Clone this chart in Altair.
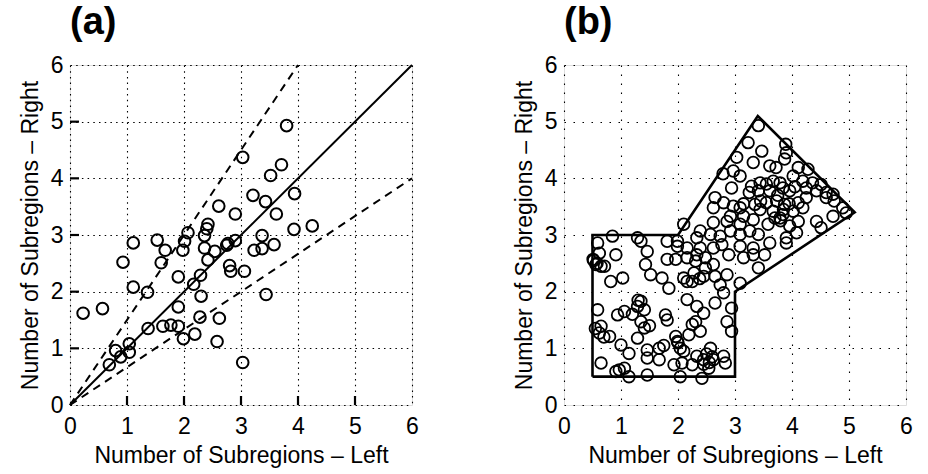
import altair as alt
import pandas as pd

# ---------------- data ----------------
# panel (a) scatter
a_x = [3.80, 3.03, 3.71, 3.52, 3.21, 3.43, 3.94, 3.62, 2.61, 2.90, 2.42, 2.40, 2.07, 2.36, 2.01,
       1.53, 1.11, 1.67, 1.98, 2.36, 2.54, 2.42, 2.77, 2.90, 2.75, 3.37, 3.23, 3.37, 3.58, 3.93,
       4.25, 0.93, 1.60, 2.80, 2.82, 3.06, 1.90, 2.29, 2.17, 1.11, 1.36, 2.30, 3.44, 1.90, 0.23,
       0.57, 2.28, 2.62, 1.37, 1.63, 1.77, 1.90, 2.19, 1.99, 2.58, 1.04, 0.80, 1.04, 0.89, 0.69,
       3.03]
a_y = [4.93, 4.37, 4.24, 4.05, 3.70, 3.59, 3.73, 3.37, 3.51, 3.37, 3.19, 3.11, 3.04, 2.99, 2.89,
       2.91, 2.86, 2.73, 2.73, 2.77, 2.71, 2.56, 2.85, 2.90, 2.82, 2.99, 2.73, 2.76, 2.83, 3.10,
       3.16, 2.52, 2.51, 2.46, 2.36, 2.36, 2.26, 2.29, 2.13, 2.08, 1.99, 1.92, 1.95, 1.73, 1.62,
       1.70, 1.55, 1.53, 1.35, 1.39, 1.41, 1.39, 1.25, 1.17, 1.12, 1.08, 0.96, 0.93, 0.85, 0.71,
       0.75]

# panel (a) reference lines
line_id = ["equal", "equal", "upper", "upper", "lower", "lower"]
line_x = [0, 6, 0, 4, 0, 6]
line_y = [0, 6, 0, 6, 0, 4]

# panel (b) scatter
b_x = [3.41, 3.23, 3.47, 3.89, 3.90, 3.87, 3.03, 3.32, 3.61, 3.72, 4.11, 4.28, 2.79, 2.97, 3.09,
       3.29, 3.44, 3.67, 3.79, 4.02, 4.19, 4.36, 4.51, 2.94, 3.41, 3.61, 3.84, 3.96, 4.25, 4.43,
       4.60, 4.72, 2.65, 2.80, 2.97, 3.09, 3.35, 3.55, 3.73, 3.87, 4.11, 4.25, 4.60, 4.74, 2.62,
       2.92, 3.15, 3.44, 3.67, 3.84, 4.02, 4.19, 4.89, 4.95, 2.62, 2.86, 3.09, 3.32, 3.58, 3.79,
       3.96, 4.11, 4.43, 4.72, 2.39, 2.57, 2.74, 2.92, 3.09, 3.26, 3.41, 3.61, 3.90, 4.08, 4.51,
       2.33, 2.62, 2.77, 3.09, 3.32, 3.52, 3.90, 2.16, 2.39, 2.48, 2.89, 3.15, 3.32, 3.41, 2.10,
       2.31, 2.48, 2.62, 3.09, 2.28, 2.45, 2.65, 2.86, 2.74, 2.16, 2.25, 2.38,
       3.75, 3.85, 3.70, 3.95, 3.80, 4.05, 3.55, 3.45, 3.25, 3.15,
       0.59, 0.85, 1.29, 1.35, 1.81, 1.99, 1.99, 0.62, 0.51, 0.56, 0.71, 0.91, 1.46, 1.43, 1.52,
       1.81, 1.96, 2.16, 2.33, 0.82, 1.03, 1.72, 1.84, 2.10, 0.59, 0.94, 1.06, 1.35, 1.29, 1.41,
       1.35, 1.78, 1.81, 2.16, 2.33, 2.45, 2.65, 2.80, 2.94, 2.86, 2.94, 0.65, 0.62, 0.80, 1.00,
       1.14, 1.29, 1.41, 1.46, 1.67, 1.96, 1.99, 2.04, 2.19, 2.25, 2.31, 2.39, 0.65, 0.91, 0.97,
       1.06, 1.14, 1.46, 1.46, 1.67, 1.93, 2.04, 2.07, 2.25, 2.33, 2.45, 2.54, 2.42, 2.57, 2.62,
       2.80, 2.83,
       0.52, 0.58, 0.65, 1.20, 1.30, 1.50, 2.00, 2.10, 1.75, 0.70, 0.55, 2.50, 2.55, 2.60, 2.45]
b_y = [4.93, 4.63, 4.48, 4.60, 4.45, 4.34, 4.37, 4.28, 4.22, 4.19, 4.19, 4.16, 4.08, 4.13, 4.04,
       3.86, 3.92, 3.95, 3.92, 4.04, 3.95, 3.92, 3.89, 3.83, 3.78, 3.78, 3.83, 3.78, 3.83, 3.78,
       3.75, 3.72, 3.66, 3.57, 3.51, 3.48, 3.54, 3.57, 3.60, 3.54, 3.57, 3.66, 3.66, 3.60, 3.48,
       3.33, 3.33, 3.45, 3.42, 3.36, 3.42, 3.48, 3.48, 3.39, 3.22, 3.24, 3.19, 3.27, 3.19, 3.30,
       3.16, 3.24, 3.24, 3.33, 3.07, 3.01, 2.98, 3.07, 3.01, 3.07, 3.01, 2.86, 2.95, 3.04, 3.13,
       2.95, 2.77, 2.83, 2.80, 2.77, 2.65, 2.86, 2.77, 2.77, 2.60, 2.65, 2.60, 2.65, 2.42, 3.19,
       2.54, 2.42, 2.48, 2.15, 2.33, 2.27, 2.27, 2.30, 2.12, 2.18, 2.18, 2.23,
       3.70, 3.45, 3.30, 3.55, 3.25, 3.85, 3.90, 3.60, 3.75, 3.55,
       2.86, 2.98, 2.95, 2.89, 2.89, 2.89, 2.80, 2.68, 2.57, 2.48, 2.45, 2.65, 2.71, 2.48, 2.30,
       2.57, 2.57, 2.60, 2.65, 2.18, 2.24, 2.24, 2.06, 2.24, 1.68, 1.59, 1.65, 1.83, 1.74, 1.68,
       1.47, 1.59, 1.50, 1.86, 1.74, 1.62, 1.80, 1.98, 1.71, 1.47, 1.30, 1.39, 1.27, 1.21, 1.06,
       0.91, 1.18, 1.36, 0.97, 1.00, 1.21, 1.12, 1.00, 1.24, 1.42, 1.47, 1.30, 0.74, 0.59, 0.62,
       0.65, 0.50, 0.83, 0.53, 0.80, 0.71, 0.50, 0.74, 0.71, 0.86, 0.80, 0.65, 0.47, 1.00, 0.80,
       0.86, 0.74,
       2.55, 2.50, 2.45, 1.60, 1.85, 1.40, 1.10, 0.95, 1.05, 1.20, 1.35, 0.90, 0.75, 0.85, 0.72]

# panel (b) outline polygon
poly_x = [0.5, 3.0, 3.0, 5.1, 3.4, 2.0, 0.5, 0.5]
poly_y = [0.5, 0.5, 2.0, 3.4, 5.1, 3.0, 3.0, 0.5]

tick_vals = [0, 1, 2, 3, 4, 5, 6]
inner_ticks = [1, 2, 3, 4, 5]

# ---------------- frames ----------------
df_a = pd.DataFrame({"x": a_x, "y": a_y})
df_lines = pd.DataFrame({"id": line_id, "x": line_x, "y": line_y})
df_b = pd.DataFrame({"x": b_x, "y": b_y})
df_poly = pd.DataFrame({"x": poly_x, "y": poly_y, "o": list(range(len(poly_x)))})
df_ticks = pd.DataFrame({"v": inner_ticks})

FONT = "Liberation Sans"
W, H = 342, 340


def xaxis(dash):
    return alt.Axis(values=tick_vals, format="d", grid=True, gridDash=dash, gridColor="black",
                    gridOpacity=1, gridWidth=1.1, domain=False, ticks=False,
                    labelFontSize=23, labelFont=FONT, labelColor="black", labelPadding=10,
                    labelFlush=False, title="Number of Subregions – Left", titleFontSize=23,
                    titleFont=FONT, titleFontWeight="normal", titleColor="black",
                    titlePadding=6)


def yaxis(dash):
    return alt.Axis(values=tick_vals, format="d", grid=True, gridDash=dash, gridColor="black",
                    gridOpacity=1, gridWidth=1.1, domain=False, ticks=False,
                    labelFontSize=23, labelFont=FONT, labelColor="black", labelPadding=7,
                    labelFlush=False, title="Number of Subregions – Right", titleFontSize=23,
                    titleFont=FONT, titleFontWeight="normal", titleColor="black",
                    titlePadding=8)


sc = alt.Scale(domain=[0, 6], nice=False)

# ---- panel (a)
pts_a = alt.Chart(df_a).mark_point(shape="circle", filled=False, color="black",
                                   size=135, strokeWidth=2, opacity=1).encode(
    x=alt.X("x:Q", scale=sc, axis=xaxis([1.5, 4.2])),
    y=alt.Y("y:Q", scale=sc, axis=yaxis([1.5, 4.2])),
)
solid = alt.Chart(df_lines).transform_filter(alt.datum.id == "equal").mark_line(
    color="black", strokeWidth=2).encode(x="x:Q", y="y:Q")
dashed = alt.Chart(df_lines).transform_filter(alt.datum.id != "equal").mark_line(
    color="black", strokeWidth=2, strokeDash=[8, 6]).encode(
    x="x:Q", y="y:Q", detail="id:N")
tick_b = alt.Chart(df_ticks).mark_rule(color="black", strokeWidth=2.2).encode(
    x="v:Q", y=alt.value(H), y2=alt.value(H - 9))
tick_l = alt.Chart(df_ticks).mark_rule(color="black", strokeWidth=2.2).encode(
    y="v:Q", x=alt.value(0), x2=alt.value(9))

panel_a = alt.layer(pts_a, solid, dashed, tick_b, tick_l).properties(
    width=W, height=H,
    title=alt.TitleParams("(a)", anchor="start", frame="group", fontSize=38,
                          fontWeight="bold", font=FONT, color="black", offset=12),
)

# ---- panel (b)
pts_b = alt.Chart(df_b).mark_point(shape="circle", filled=False, color="black",
                                   size=135, strokeWidth=1.8, opacity=1).encode(
    x=alt.X("x:Q", scale=sc, axis=xaxis([1.5, 7.5])),
    y=alt.Y("y:Q", scale=sc, axis=yaxis([1.5, 7.5])),
)
poly = alt.Chart(df_poly).mark_line(color="black", strokeWidth=2.6).encode(
    x="x:Q", y="y:Q", order="o:Q")

panel_b = alt.layer(pts_b, poly).properties(
    width=W, height=H,
    title=alt.TitleParams("(b)", anchor="start", frame="group", fontSize=38,
                          fontWeight="bold", font=FONT, color="black", offset=12),
)

chart = alt.hconcat(panel_a, panel_b, spacing=93).configure_view(
    stroke="black", strokeWidth=2.2
).configure(
    padding={"left": 18, "top": 3, "right": 5, "bottom": 0}, background="white"
)

chart.save("out.html", embed_options={"renderer": "svg", "actions": False})
